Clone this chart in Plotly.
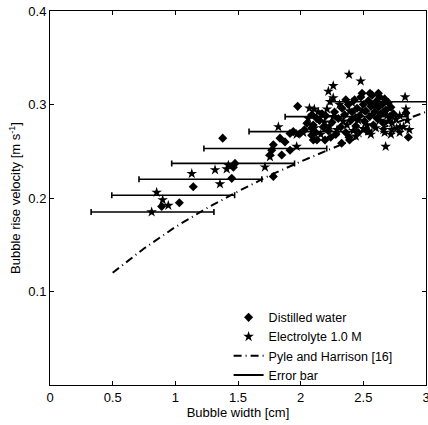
import plotly.graph_objects as go

# Distilled water (diamonds)
water_x = [1.378, 1.476, 1.463, 1.450, 1.143, 0.891, 1.032, 1.976, 2.128, 1.835,
           1.875, 1.915, 1.941, 1.995, 1.782, 1.769, 1.755, 1.849, 1.915, 2.088,
           2.088, 2.101, 2.194, 1.782, 2.553, 2.859, 2.840, 2.327, 2.386,
           2.05, 2.10, 2.12, 2.15, 2.18, 2.20, 2.22, 2.25, 2.27, 2.28, 2.30, 2.32,
           2.33, 2.35, 2.36, 2.38, 2.40, 2.41, 2.43, 2.44, 2.45, 2.47, 2.48, 2.50,
           2.51, 2.52, 2.54, 2.55, 2.56, 2.57, 2.58, 2.59, 2.60, 2.61, 2.62, 2.63,
           2.64, 2.65, 2.66, 2.67, 2.68, 2.70, 2.71, 2.72, 2.74, 2.46, 2.53, 2.39,
           2.24, 2.17, 2.09, 2.03, 2.13, 2.58, 2.49, 2.62, 2.36, 2.44, 2.66]
water_y = [0.264, 0.237, 0.233, 0.221, 0.212, 0.191, 0.195, 0.298, 0.285, 0.264,
           0.260, 0.269, 0.271, 0.269, 0.257, 0.251, 0.246, 0.246, 0.251, 0.275,
           0.267, 0.262, 0.262, 0.223, 0.312, 0.265, 0.291, 0.2585, 0.265,
           0.280, 0.278, 0.270, 0.283, 0.276, 0.288, 0.272, 0.281, 0.292, 0.268, 0.285, 0.276,
           0.296, 0.289, 0.270, 0.300, 0.283, 0.292, 0.305, 0.277, 0.296, 0.288, 0.308, 0.300,
           0.282, 0.293, 0.304, 0.287, 0.298, 0.310, 0.278, 0.292, 0.303, 0.285, 0.297, 0.308,
           0.290, 0.300, 0.280, 0.306, 0.294, 0.302, 0.287, 0.297, 0.290, 0.270, 0.272, 0.262,
           0.265, 0.290, 0.289, 0.273, 0.262, 0.300, 0.312, 0.312, 0.305, 0.286, 0.292]

# Electrolyte 1.0 M (stars)
elec_x = [1.131, 1.317, 1.410, 1.423, 1.356, 0.851, 0.899, 0.944, 0.811, 2.109,
          1.822, 1.968, 1.968, 1.755, 1.715, 2.386, 2.479, 2.260, 2.221, 2.234,
          2.833, 2.840, 2.867, 2.678, 2.700, 2.660, 2.726, 2.766, 2.793,
          2.02, 2.06, 2.11, 2.14, 2.16, 2.19, 2.21, 2.23, 2.26, 2.29, 2.31, 2.34,
          2.37, 2.39, 2.42, 2.46, 2.49, 2.53, 2.56, 2.60, 2.63, 2.67, 2.69, 2.73,
          2.76, 2.79, 2.82, 2.85, 2.26, 2.41, 2.57, 2.07, 2.44, 2.72, 2.50, 2.79]
elec_y = [0.226, 0.230, 0.231, 0.235, 0.215, 0.206, 0.198, 0.192, 0.185, 0.295,
          0.276, 0.268, 0.255, 0.244, 0.233, 0.332, 0.325, 0.320, 0.314, 0.303,
          0.308, 0.295, 0.273, 0.255, 0.282, 0.273, 0.273, 0.2745, 0.276,
          0.270, 0.285, 0.275, 0.292, 0.268, 0.281, 0.295, 0.277, 0.287, 0.273, 0.300, 0.282,
          0.278, 0.293, 0.272, 0.283, 0.293, 0.278, 0.268, 0.275, 0.283, 0.270, 0.288, 0.280,
          0.284, 0.270, 0.276, 0.283, 0.307, 0.302, 0.289, 0.296, 0.266, 0.268, 0.274, 0.288]

# Pyle and Harrison [16] curve
pyle_x = [0.5, 0.75, 1.0, 1.25, 1.5, 1.75, 2.0, 2.25, 2.5, 2.75, 3.0]
pyle_y = [0.120, 0.146, 0.169, 0.189, 0.207, 0.224, 0.239, 0.253, 0.267, 0.280, 0.292]

# Error bars (centre x, y, half-width)
err_x = [0.818, 0.983, 1.200, 1.461, 1.718, 2.078, 2.366, 2.725]
err_y = [0.185, 0.203, 0.220, 0.237, 0.253, 0.271, 0.287, 0.303]
err_half = [0.49, 0.49, 0.49, 0.49, 0.49, 0.49, 0.49, 0.49]

x_ticks = [0, 0.5, 1, 1.5, 2, 2.5, 3]
x_ticktext = ["0", "0.5", "1", "1.5", "2", "2.5", "3"]
y_ticks = [0.1, 0.2, 0.3, 0.4]
y_ticktext = ["0.1", "0.2", "0.3", "0.4"]

fig = go.Figure()

fig.add_trace(go.Scatter(
    x=err_x, y=err_y, mode="markers", showlegend=False, hoverinfo="skip",
    marker=dict(size=1, color="rgba(0,0,0,0)"),
    error_x=dict(type="data", array=err_half, symmetric=True, color="black",
                 thickness=1.6, width=3),
))

fig.add_trace(go.Scatter(
    x=pyle_x, y=pyle_y, mode="lines", name="Pyle and Harrison [16]",
    line=dict(color="black", width=2, dash="8px,4px,1px,4px"),
    legendrank=3,
))

fig.add_trace(go.Scatter(
    x=water_x, y=water_y, mode="markers", name="Distilled water",
    marker=dict(symbol="diamond", size=7, color="black", line=dict(width=0)),
    legendrank=1,
))

fig.add_trace(go.Scatter(
    x=elec_x, y=elec_y, mode="markers", name="Electrolyte 1.0 M",
    marker=dict(symbol="star", size=8, color="black", line=dict(width=0)),
    legendrank=2,
))

fig.add_trace(go.Scatter(
    x=[None], y=[None], mode="lines", name="Error bar",
    line=dict(color="black", width=2),
    legendrank=4,
))

fig.update_layout(
    width=428, height=425,
    margin=dict(l=50, r=2, t=11, b=40, autoexpand=False),
    paper_bgcolor="white", plot_bgcolor="white",
    font=dict(family="Liberation Sans, Arial, sans-serif", size=13, color="black"),
    showlegend=True,
    legend=dict(
        x=0.475, y=0.22, xanchor="left", yanchor="top",
        bgcolor="rgba(255,255,255,0)", borderwidth=0,
        font=dict(size=12.5), traceorder="normal",
        itemwidth=30,
    ),
    xaxis=dict(
        range=[0, 3], tickvals=x_ticks, ticktext=x_ticktext,
        showgrid=False, zeroline=False, showline=True, linecolor="black",
        linewidth=1, mirror="ticks", ticks="inside", ticklen=4,
        tickcolor="black", automargin=False, ticklabeloverflow="allow",
        title=dict(text="Bubble width [cm]", standoff=2, font=dict(size=13)),
    ),
    yaxis=dict(
        range=[0, 0.4], tickvals=y_ticks, ticktext=y_ticktext,
        showgrid=False, zeroline=False, showline=True, linecolor="black",
        linewidth=1, mirror="ticks", ticks="inside", ticklen=4,
        tickcolor="black", automargin=False,
        title=dict(text="Bubble rise velocity [m s<sup>-1</sup>]", standoff=4,
                   font=dict(size=13)),
    ),
)

fig.write_html(
    "out.html",
    config={"displayModeBar": False},
    post_script="document.body.style.margin='0';document.body.style.overflow='hidden';",
)
